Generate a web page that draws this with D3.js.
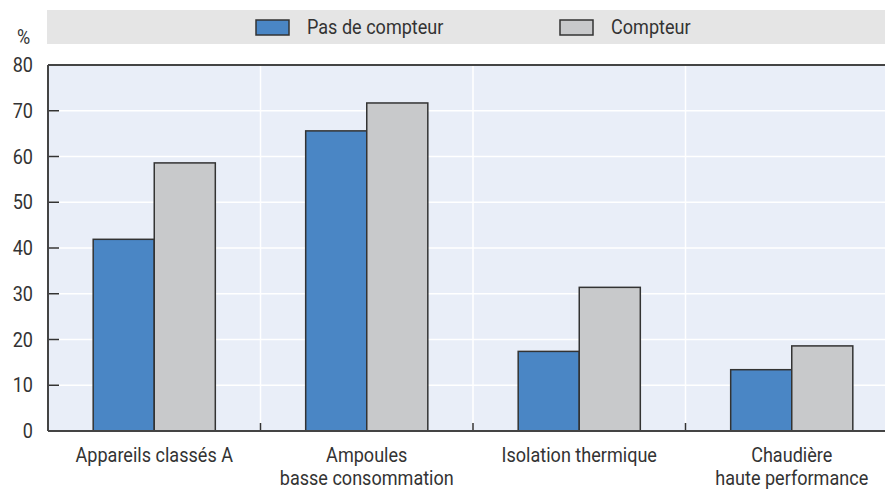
<!DOCTYPE html>
<html><head><meta charset="utf-8">
<script src="https://cdn.jsdelivr.net/npm/d3@7"></script>
<style>
body{margin:0;background:#fff;}
svg text{font-family:Roboto,"Liberation Sans",sans-serif;fill:#333;}
</style></head>
<body><svg id="c" width="885" height="491"></svg>
<script>
const categories = [["Appareils classés A"],["Ampoules","basse consommation"],["Isolation thermique"],["Chaudière","haute performance"]];
const seriesNames = ["Pas de compteur","Compteur"];
const pasDeCompteur = [41.9, 65.6, 17.4, 13.4];
const compteur = [58.6, 71.7, 31.4, 18.6];
const yTicks = [0,10,20,30,40,50,60,70,80];
const colors = ["#4a86c5","#c8c9cb"];

const SX = 0.86, FS = 21;
const svg = d3.select("#c");
const L=48, R=898, T=65, B=431;
const x = d3.scaleBand().domain(d3.range(categories.length)).range([L,R]).paddingInner(0).paddingOuter(0);
const x1 = d3.scaleBand().domain([0,1]).range([0,x.bandwidth()]).paddingOuter(0.74).paddingInner(0);
const y = d3.scaleLinear().domain([0,80]).range([B,T]);

function ntext(parent, tx, ty, str, anchor, fs){
  return parent.append("text").attr("transform",`translate(${tx},${ty}) scale(${SX},1)`)
    .attr("text-anchor",anchor||"start").attr("font-size",fs||FS).text(str);
}

// legend band
svg.append("rect").attr("x",47).attr("y",10).attr("width",840).attr("height",34).attr("fill","#e5e5e5");
const legX=[256,560];
seriesNames.forEach((n,i)=>{
  svg.append("rect").attr("x",legX[i]).attr("y",20).attr("width",33).attr("height",15).attr("fill",colors[i]).attr("stroke","#333").attr("stroke-width",1.5);
  ntext(svg, legX[i]+51, 34, n);
});
ntext(svg, 17, 44, "%", "start", 21);

// plot bg
svg.append("rect").attr("x",L).attr("y",T).attr("width",R-L).attr("height",B-T).attr("fill","#e9eef8");
// gridlines
svg.append("g").selectAll("line").data(yTicks.filter(d=>d>0&&d<80)).join("line")
  .attr("x1",L).attr("x2",R).attr("y1",d=>y(d)).attr("y2",d=>y(d)).attr("stroke","#fff").attr("stroke-width",1.5);
svg.append("g").selectAll("line").data(d3.range(1,categories.length)).join("line")
  .attr("x1",d=>x(d)).attr("x2",d=>x(d)).attr("y1",T).attr("y2",B).attr("stroke","#fff").attr("stroke-width",1.5);

// bars
const data = categories.map((c,i)=>[pasDeCompteur[i],compteur[i]]);
const g = svg.append("g").selectAll("g").data(data).join("g").attr("transform",(d,i)=>`translate(${x(i)},0)`);
g.selectAll("rect").data(d=>d).join("rect")
  .attr("x",(d,j)=>x1(j)).attr("width",x1.bandwidth())
  .attr("y",d=>y(d)).attr("height",d=>B-y(d))
  .attr("fill",(d,j)=>colors[j]).attr("stroke","#333").attr("stroke-width",1.5);

// y axis
const yAxis = d3.axisLeft(y).tickValues(yTicks).tickSize(0).tickPadding(15);
const ya = svg.append("g").attr("transform",`translate(${L},0)`).call(yAxis);
ya.select(".domain").remove();
ya.selectAll("text").attr("font-size",FS).attr("fill","#333").attr("font-family",null)
  .attr("x",0).attr("transform",`translate(-15,0) scale(${SX},1)`);
svg.append("g").selectAll("line").data(yTicks.filter(d=>d>0&&d<80)).join("line")
  .attr("x1",L).attr("x2",L+11).attr("y1",d=>y(d)).attr("y2",d=>y(d)).attr("stroke","#333").attr("stroke-width",1.5);
// category boundary ticks
svg.append("g").selectAll("line").data(d3.range(1,categories.length)).join("line")
  .attr("x1",d=>x(d)).attr("x2",d=>x(d)).attr("y1",B-8).attr("y2",B).attr("stroke","#333").attr("stroke-width",1.5);
// frame lines
svg.append("line").attr("x1",L).attr("x2",885).attr("y1",T).attr("y2",T).attr("stroke","#444").attr("stroke-width",2);
svg.append("line").attr("x1",L).attr("x2",885).attr("y1",B).attr("y2",B).attr("stroke","#444").attr("stroke-width",2);
svg.append("line").attr("x1",L).attr("x2",L).attr("y1",T).attr("y2",B).attr("stroke","#444").attr("stroke-width",2);

// category labels
categories.forEach((lines,i)=>{
  const cx = x(i)+x.bandwidth()/2;
  lines.forEach((ln,k)=>ntext(svg, cx, 462 + k*23, ln, "middle"));
});
</script></body></html>
